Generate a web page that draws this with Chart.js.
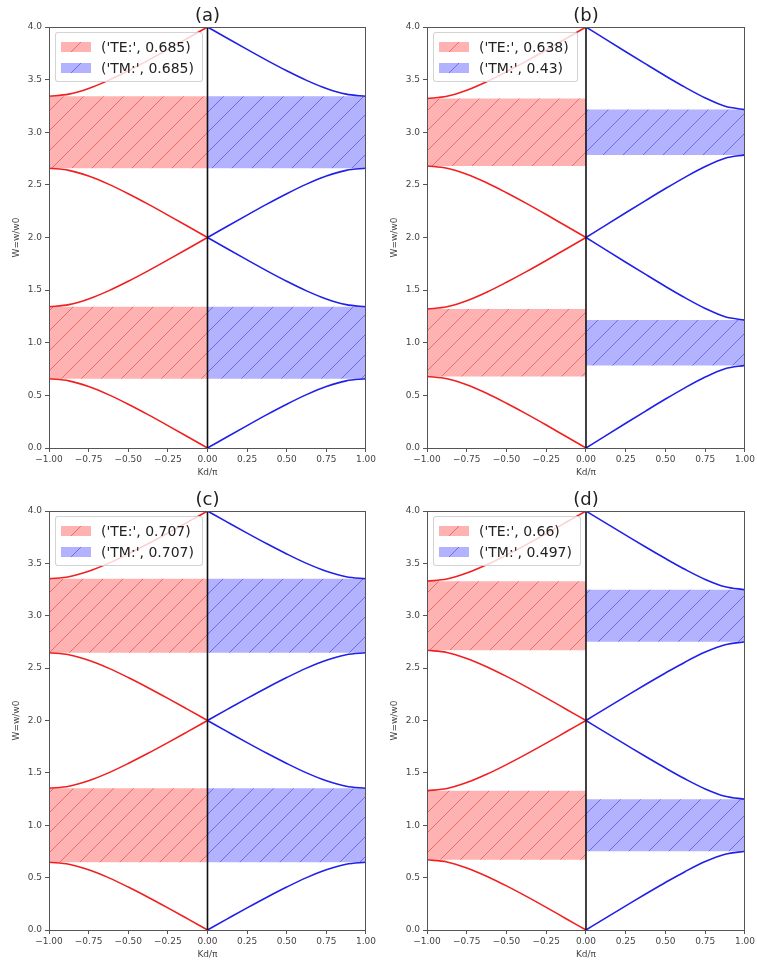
<!DOCTYPE html>
<html>
<head>
<meta charset="utf-8">
<title>Band structure TE / TM</title>
<script src="https://cdn.jsdelivr.net/npm/chart.js@4.4.1/dist/chart.umd.min.js"></script>
<style>
    body { margin: 0; background: #fff; font-family: 'DejaVu Sans', sans-serif; }
    #wrap { position: relative; width: 757px; height: 964px; }
    .panel { position: absolute; }
    .legend {
        position: absolute;
        background: rgba(255, 255, 255, 0.8);
        border: 1px solid rgba(200, 200, 200, 0.8);
        border-radius: 3px;
        padding: 3px 8px 3px 5px;
        font-size: 14px;
        color: #222;
        white-space: nowrap;
    }
    .legend .row { display: flex; align-items: center; height: 21px; }
    .legend .swatch { width: 30px; height: 10px; margin-right: 10px; }
</style>
</head>
<body>
<div id="wrap">
    <div class="panel" style="left:0;top:0;width:378px;height:482px"><canvas id="chartA" width="378" height="482"></canvas></div>
    <div class="panel" style="left:378px;top:0;width:379px;height:482px"><canvas id="chartB" width="379" height="482"></canvas></div>
    <div class="panel" style="left:0;top:482px;width:378px;height:482px"><canvas id="chartC" width="378" height="482"></canvas></div>
    <div class="panel" style="left:378px;top:482px;width:379px;height:482px"><canvas id="chartD" width="379" height="482"></canvas></div>
</div>

<script>
// x sampling of the left (TE) and right (TM) halves, Kd/pi
const xLeft = [-1, -0.875, -0.75, -0.625, -0.5, -0.375, -0.25, -0.125, 0];
const xRight = [0, 0.125, 0.25, 0.375, 0.5, 0.625, 0.75, 0.875, 1];

const xTickValues = [-1, -0.75, -0.5, -0.25, 0, 0.25, 0.5, 0.75, 1];
const yTickValues = [0, 0.5, 1, 1.5, 2, 2.5, 3, 3.5, 4];

const panelTitles = ['(a)', '(b)', '(c)', '(d)'];
const teLabels = ["('TE:', 0.685)", "('TE:', 0.638)", "('TE:', 0.707)", "('TE:', 0.66)"];
const tmLabels = ["('TM:', 0.685)", "('TM:', 0.43)", "('TM:', 0.707)", "('TM:', 0.497)"];

// band gaps [low, high] per panel
const teGapsA = [[0.658, 1.342], [2.658, 3.342]];
const tmGapsA = [[0.658, 1.342], [2.658, 3.342]];
const teGapsB = [[0.68, 1.32], [2.68, 3.32]];
const tmGapsB = [[0.785, 1.215], [2.785, 3.215]];
const teGapsC = [[0.647, 1.353], [2.647, 3.353]];
const tmGapsC = [[0.647, 1.353], [2.647, 3.353]];
const teGapsD = [[0.67, 1.33], [2.67, 3.33]];
const tmGapsD = [[0.752, 1.248], [2.752, 3.248]];

// TE bands (values at xLeft)
const teBandsA = [
    [0.658, 0.638, 0.584, 0.507, 0.416, 0.317, 0.213, 0.107, 0],
    [1.342, 1.362, 1.416, 1.493, 1.584, 1.683, 1.787, 1.893, 2],
    [2.658, 2.638, 2.584, 2.507, 2.416, 2.317, 2.213, 2.107, 2],
    [3.342, 3.362, 3.416, 3.493, 3.584, 3.683, 3.787, 3.893, 4]
];
const teBandsB = [
    [0.68, 0.658, 0.601, 0.520, 0.425, 0.324, 0.218, 0.109, 0],
    [1.32, 1.342, 1.399, 1.480, 1.575, 1.676, 1.782, 1.891, 2],
    [2.68, 2.658, 2.601, 2.520, 2.425, 2.324, 2.218, 2.109, 2],
    [3.32, 3.342, 3.399, 3.480, 3.575, 3.676, 3.782, 3.891, 4]
];
const teBandsC = [
    [0.647, 0.627, 0.575, 0.500, 0.410, 0.313, 0.211, 0.106, 0],
    [1.353, 1.373, 1.425, 1.500, 1.590, 1.687, 1.789, 1.894, 2],
    [2.647, 2.627, 2.575, 2.500, 2.410, 2.313, 2.211, 2.106, 2],
    [3.353, 3.373, 3.425, 3.500, 3.590, 3.687, 3.789, 3.894, 4]
];
const teBandsD = [
    [0.67, 0.650, 0.593, 0.514, 0.421, 0.321, 0.216, 0.108, 0],
    [1.33, 1.350, 1.407, 1.486, 1.579, 1.679, 1.784, 1.892, 2],
    [2.67, 2.650, 2.593, 2.514, 2.421, 2.321, 2.216, 2.108, 2],
    [3.33, 3.350, 3.407, 3.486, 3.579, 3.679, 3.784, 3.892, 4]
];

// TM bands (values at xRight)
const tmBandsA = [
    [0, 0.107, 0.213, 0.317, 0.416, 0.507, 0.584, 0.638, 0.658],
    [2, 1.893, 1.787, 1.683, 1.584, 1.493, 1.416, 1.362, 1.342],
    [2, 2.107, 2.213, 2.317, 2.416, 2.507, 2.584, 2.638, 2.658],
    [4, 3.893, 3.787, 3.683, 3.584, 3.493, 3.416, 3.362, 3.342]
];
const tmBandsB = [
    [0, 0.118, 0.235, 0.351, 0.465, 0.574, 0.674, 0.753, 0.785],
    [2, 1.882, 1.765, 1.649, 1.535, 1.426, 1.326, 1.247, 1.215],
    [2, 2.118, 2.235, 2.351, 2.465, 2.574, 2.674, 2.753, 2.785],
    [4, 3.882, 3.765, 3.649, 3.535, 3.426, 3.326, 3.247, 3.215]
];
const tmBandsC = [
    [0, 0.106, 0.211, 0.313, 0.410, 0.500, 0.575, 0.627, 0.647],
    [2, 1.894, 1.789, 1.687, 1.590, 1.500, 1.425, 1.373, 1.353],
    [2, 2.106, 2.211, 2.313, 2.410, 2.500, 2.575, 2.627, 2.647],
    [4, 3.894, 3.789, 3.687, 3.590, 3.500, 3.425, 3.373, 3.353]
];
const tmBandsD = [
    [0, 0.116, 0.230, 0.344, 0.454, 0.559, 0.653, 0.723, 0.752],
    [2, 1.884, 1.770, 1.656, 1.546, 1.441, 1.347, 1.277, 1.248],
    [2, 2.116, 2.230, 2.344, 2.454, 2.559, 2.653, 2.723, 2.752],
    [4, 3.884, 3.770, 3.656, 3.546, 3.441, 3.347, 3.277, 3.248]
];

const FONT = "'DejaVu Sans', sans-serif";
const RED = '#f02020';
const BLUE = '#2020e8';

// hatched tile like matplotlib hatch='/'
function hatchTile(fill, line) {
    const c = document.createElement('canvas');
    c.width = c.height = 20;
    const g = c.getContext('2d');
    g.fillStyle = fill;
    g.fillRect(0, 0, 20, 20);
    g.strokeStyle = line;
    g.lineWidth = 1;
    g.beginPath();
    g.moveTo(-2, 22); g.lineTo(22, -2);
    g.moveTo(-12, 12); g.lineTo(12, -12);
    g.moveTo(8, 32); g.lineTo(32, 8);
    g.stroke();
    return c;
}

const redTile = hatchTile('rgba(255,0,0,0.3)', 'rgba(210,40,40,0.5)');
const blueTile = hatchTile('rgba(0,0,255,0.3)', 'rgba(40,40,210,0.5)');

// outer box on all four sides
const spinePlugin = {
    id: 'spines',
    afterDatasetsDraw(chart) {
        const { ctx, chartArea: a } = chart;
        ctx.save();
        ctx.strokeStyle = '#555';
        ctx.lineWidth = 1;
        ctx.strokeRect(Math.round(a.left) + 0.5, Math.round(a.top) + 0.5,
            Math.round(a.right - a.left) - 1, Math.round(a.bottom - a.top));
        ctx.restore();
    }
};

function gapDatasets(gaps, x0, x1, pattern) {
    return gaps.map(g => ({
        data: [{ x: x0, y: g[1] }, { x: x1, y: g[1] }],
        fill: { value: g[0] },
        backgroundColor: pattern,
        borderColor: 'transparent',
        borderWidth: 0,
        pointRadius: 0,
        order: 3
    }));
}

function bandDatasets(bands, xs, color) {
    return bands.map(b => ({
        data: xs.map((x, j) => ({ x: x, y: b[j] })),
        borderColor: color,
        borderWidth: 1.6,
        pointRadius: 0,
        fill: false,
        cubicInterpolationMode: 'monotone',
        order: 2
    }));
}

function makePanel(id, idx, teBands, tmBands, teGaps, tmGaps, topPad) {
    const canvas = document.getElementById(id);
    const ctx = canvas.getContext('2d');
    const redPat = ctx.createPattern(redTile, 'repeat');
    const bluePat = ctx.createPattern(blueTile, 'repeat');

    const datasets = [
        ...gapDatasets(teGaps, -1, 0, redPat),
        ...gapDatasets(tmGaps, 0, 1, bluePat),
        ...bandDatasets(teBands, xLeft, RED),
        ...bandDatasets(tmBands, xRight, BLUE),
        {
            data: [{ x: 0, y: 0 }, { x: 0, y: 4 }],
            borderColor: '#111',
            borderWidth: 1.6,
            pointRadius: 0,
            fill: false,
            order: 1
        }
    ];

    const chart = new Chart(ctx, {
        type: 'line',
        data: { datasets: datasets },
        options: {
            responsive: false,
            animation: false,
            events: [],
            layout: { padding: { left: 0, right: canvas.width - 367 - (canvas.width - 378), top: 0, bottom: 0 } },
            plugins: {
                legend: { display: false },
                tooltip: { enabled: false },
                title: {
                    display: true,
                    text: panelTitles[idx],
                    fullSize: false,
                    color: '#222',
                    font: { family: FONT, size: 18, weight: 'normal' },
                    padding: { top: topPad, bottom: 0 }
                }
            },
            scales: {
                x: {
                    type: 'linear',
                    min: -1,
                    max: 1,
                    afterFit: s => { s.height = 34; },
                    afterBuildTicks: s => { s.ticks = xTickValues.map(v => ({ value: v })); },
                    grid: { drawOnChartArea: false, tickLength: 4, color: '#555' },
                    border: { display: false },
                    ticks: {
                        color: '#444',
                        padding: 2,
                        maxRotation: 0,
                        font: { family: FONT, size: 9 },
                        callback: v => (v < 0 ? '\u2212' : '') + Math.abs(v).toFixed(2)
                    },
                    title: {
                        display: true,
                        text: 'Kd/\u03c0',
                        color: '#444',
                        font: { family: FONT, size: 9 },
                        padding: { top: 0, bottom: 4 }
                    }
                },
                y: {
                    type: 'linear',
                    min: 0,
                    max: 4,
                    afterFit: s => { s.width = 49; },
                    afterBuildTicks: s => { s.ticks = yTickValues.map(v => ({ value: v })); },
                    grid: { drawOnChartArea: false, tickLength: 4, color: '#555' },
                    border: { display: false },
                    ticks: {
                        color: '#444',
                        padding: 3,
                        font: { family: FONT, size: 9 },
                        callback: v => v.toFixed(1)
                    },
                    title: {
                        display: true,
                        text: 'W=w/w0',
                        color: '#444',
                        font: { family: FONT, size: 9 },
                        padding: { top: 11, bottom: 0 }
                    }
                }
            }
        },
        plugins: [spinePlugin]
    });

    // matplotlib style legend inside the axes, upper left
    const a = chart.chartArea;
    const legend = document.createElement('div');
    legend.className = 'legend';
    legend.style.left = (a.left + 6) + 'px';
    legend.style.top = (a.top + 5) + 'px';
    legend.innerHTML = `
        <div class="row"><div class="swatch" style="background-image:url(${redTile.toDataURL()})"></div>${teLabels[idx]}</div>
        <div class="row"><div class="swatch" style="background-image:url(${blueTile.toDataURL()})"></div>${tmLabels[idx]}</div>
    `;
    canvas.parentNode.appendChild(legend);
    return chart;
}

document.addEventListener('DOMContentLoaded', () => {
    makePanel('chartA', 0, teBandsA, tmBandsA, teGapsA, tmGapsA, 5.4);
    makePanel('chartB', 1, teBandsB, tmBandsB, teGapsB, tmGapsB, 5.4);
    makePanel('chartC', 2, teBandsC, tmBandsC, teGapsC, tmGapsC, 7.4);
    makePanel('chartD', 3, teBandsD, tmBandsD, teGapsD, tmGapsD, 7.4);
});
</script>
</body>
</html>
